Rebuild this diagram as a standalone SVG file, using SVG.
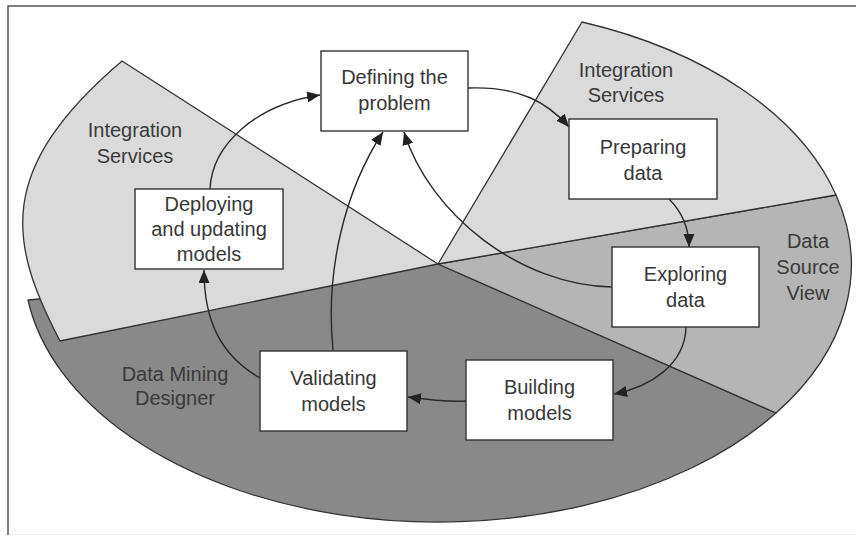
<svg xmlns="http://www.w3.org/2000/svg" width="856" height="536" viewBox="0 0 856 536">
<style>
.sec{stroke:#333;stroke-width:1.3;stroke-linejoin:round}
.light{fill:#dadada}
.mid{fill:#b4b5b4}
.dark{fill:#898989}
.box{fill:#fff;stroke:#333;stroke-width:1.4}
text{font-family:"Liberation Sans",Arial,sans-serif;font-size:20px;fill:#383838;text-anchor:middle}
.lbl{fill:#3a3a3a}
.con{fill:none;stroke:#2a2a2a;stroke-width:1.4}
</style>
<defs>
<marker id="ah" markerUnits="userSpaceOnUse" markerWidth="14" markerHeight="12" refX="13" refY="5.5" orient="auto">
<path d="M0,0 L13,5.5 L0,11 z" fill="#222"/>
</marker>
</defs>
<rect x="0" y="0" width="856" height="536" fill="#fff"/>
<g id="frame">
<path d="M8,535 L8,6 L856,6" fill="none" stroke="#555" stroke-width="1.5"/>
<path d="M9,534.5 L856,534.5" fill="none" stroke="#eee" stroke-width="1"/>
</g>
<g id="sectors">
<path id="sector-dmd" class="sec dark" d="M438,264 L28,300 A414,258 0 0 0 776,413 Z"/>
<path id="sector-dsv" class="sec mid" d="M438,264 L836,195 A414,258 0 0 1 776,413 Z"/>
<path id="sector-is-left" class="sec light" d="M438,264 L122,61 C-6,170 9,243 60,341 Z"/>
<path id="sector-is-right" class="sec light" d="M438,264 L582,22 A414,258 0 0 1 836,195 Z"/>
</g>
<g id="region-labels">
<text class="lbl" x="135" y="137">Integration</text>
<text class="lbl" x="135" y="163">Services</text>
<text class="lbl" x="626" y="77">Integration</text>
<text class="lbl" x="626" y="102">Services</text>
<text class="lbl" x="808" y="248">Data</text>
<text class="lbl" x="808" y="274">Source</text>
<text class="lbl" x="808" y="300">View</text>
<text class="lbl" x="175" y="381">Data Mining</text>
<text class="lbl" x="175" y="405">Designer</text>
</g>
<g id="connectors">
<path class="con" marker-end="url(#ah)" d="M468,88 C520,86 548,103 569,127"/>
<path class="con" marker-end="url(#ah)" d="M669,199 C680,210 689,225 689,247"/>
<path class="con" marker-end="url(#ah)" d="M686,327 C685,365 650,387 614,394"/>
<path class="con" marker-end="url(#ah)" d="M466,401 C450,402 430,400 408,397"/>
<path class="con" marker-end="url(#ah)" d="M260,378 C220,355 204,320 204,270"/>
<path class="con" marker-end="url(#ah)" d="M333,350 C325,270 345,190 383,132"/>
<path class="con" marker-end="url(#ah)" d="M612,287 C520,285 430,215 404,132"/>
<path class="con" marker-end="url(#ah)" d="M210,189 C212,145 255,105 320,95"/>
</g>
<g id="node-defining">
<rect class="box" x="321" y="51" width="147" height="80"/>
<text x="394.5" y="84">Defining the</text>
<text x="394.5" y="110">problem</text>
</g>
<g id="node-preparing">
<rect class="box" x="569" y="119" width="148" height="80"/>
<text x="643" y="154">Preparing</text>
<text x="643" y="180">data</text>
</g>
<g id="node-exploring">
<rect class="box" x="612" y="247" width="147" height="80"/>
<text x="685.5" y="281">Exploring</text>
<text x="685.5" y="307">data</text>
</g>
<g id="node-building">
<rect class="box" x="466" y="360" width="147" height="80"/>
<text x="539.5" y="394">Building</text>
<text x="539.5" y="420">models</text>
</g>
<g id="node-validating">
<rect class="box" x="260" y="351" width="147" height="80"/>
<text x="333.5" y="385">Validating</text>
<text x="333.5" y="411">models</text>
</g>
<g id="node-deploying">
<rect class="box" x="135" y="189" width="148" height="80"/>
<text x="209" y="211">Deploying</text>
<text x="209" y="236">and updating</text>
<text x="209" y="261">models</text>
</g>
</svg>
